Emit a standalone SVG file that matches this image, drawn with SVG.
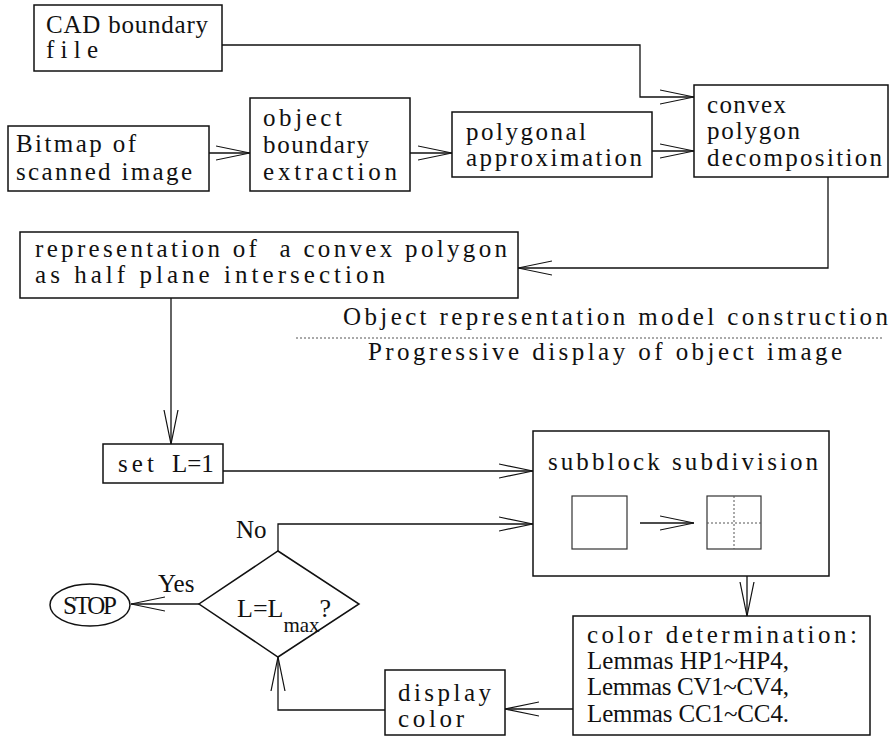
<svg xmlns="http://www.w3.org/2000/svg" width="894" height="736" viewBox="0 0 894 736">
<defs>
<marker id="ah" viewBox="0 0 34 16" refX="34" refY="8" markerWidth="34" markerHeight="16" markerUnits="userSpaceOnUse" orient="auto">
<path d="M0,1 L34,8 L0,15" fill="none" stroke="#111" stroke-width="1.2"/>
</marker>
</defs>
<style>
.box{fill:#fff;stroke:#111;stroke-width:1.5}
.ln{fill:none;stroke:#111;stroke-width:1.3}
.t{font-family:"Liberation Serif","Times New Roman",serif;font-size:25px;fill:#111}
.r{font-family:"Liberation Serif","Times New Roman",serif;font-size:25px;fill:#111}
.dot{stroke:#555;stroke-width:1;stroke-dasharray:2 2;fill:none}
</style>
<rect width="894" height="736" fill="#fff"/>

<g id="connectors">
<polyline class="ln" points="222,45 640,45 640,97 694,97" marker-end="url(#ah)"/>
<line class="ln" x1="209" y1="153" x2="250" y2="153" marker-end="url(#ah)"/>
<line class="ln" x1="410" y1="153" x2="452" y2="153" marker-end="url(#ah)"/>
<line class="ln" x1="652" y1="151" x2="694" y2="151" marker-end="url(#ah)"/>
<polyline class="ln" points="828,177 828,268 518,268" marker-end="url(#ah)"/>
<line class="ln" x1="171" y1="298" x2="171" y2="444" marker-end="url(#ah)"/>
<line class="ln" x1="223" y1="471" x2="533" y2="471" marker-end="url(#ah)"/>
<polyline class="ln" points="278,551 278,524 533,524" marker-end="url(#ah)"/>
<line class="ln" x1="199" y1="604" x2="131" y2="604" marker-end="url(#ah)"/>
<line class="ln" x1="747" y1="576" x2="747" y2="616" marker-end="url(#ah)"/>
<line class="ln" x1="573" y1="709" x2="505" y2="709" marker-end="url(#ah)"/>
<polyline class="ln" points="385,710 278,710 278,657" marker-end="url(#ah)"/>
</g>

<g id="cad">
<rect class="box" x="34" y="5" width="188" height="66"/>
<text class="t" x="46" y="33" textLength="162">CAD boundary</text>
<text class="t" x="46" y="58" textLength="52">file</text>
</g>

<g id="bitmap">
<rect class="box" x="8" y="126" width="201" height="65"/>
<text class="t" x="16" y="152" textLength="120">Bitmap of</text>
<text class="t" x="16" y="180" textLength="176">scanned image</text>
</g>

<g id="extraction">
<rect class="box" x="250" y="98" width="160" height="93"/>
<text class="t" x="263" y="126" textLength="79">object</text>
<text class="t" x="263" y="153" textLength="106">boundary</text>
<text class="t" x="263" y="180" textLength="134">extraction</text>
</g>

<g id="polygonal">
<rect class="box" x="452" y="112" width="200" height="65"/>
<text class="t" x="466" y="140" textLength="120">polygonal</text>
<text class="t" x="466" y="166" textLength="176">approximation</text>
</g>

<g id="convex">
<rect class="box" x="694" y="85" width="194" height="92"/>
<text class="t" x="707" y="113" textLength="79">convex</text>
<text class="t" x="707" y="139" textLength="93">polygon</text>
<text class="t" x="707" y="166" textLength="175">decomposition</text>
</g>

<g id="representation">
<rect class="box" x="20" y="232" width="498" height="66"/>
<text class="t" x="35" y="257" textLength="472" xml:space="preserve">representation of  a convex polygon</text>
<text class="t" x="35" y="283" textLength="350">as half plane intersection</text>
</g>

<g id="separator">
<text class="t" x="343" y="325" textLength="545">Object representation model construction</text>
<line class="dot" x1="296" y1="338" x2="882" y2="338"/>
<text class="t" x="368" y="360" textLength="474">Progressive display of object image</text>
</g>

<g id="setL">
<rect class="box" x="103" y="444" width="120" height="39"/>
<text class="t" x="118" y="472" textLength="36">set</text>
<text class="r" x="172" y="472">L=1</text>
</g>

<g id="subblock">
<rect class="box" x="533" y="431" width="296" height="145"/>
<text class="t" x="548" y="470" textLength="270">subblock subdivision</text>
<rect x="572" y="496" width="55" height="53" fill="none" stroke="#333" stroke-width="1.2"/>
<line class="ln" x1="640" y1="523" x2="694" y2="523" marker-end="url(#ah)"/>
<rect x="707" y="496" width="54" height="53" fill="none" stroke="#333" stroke-width="1.2"/>
<line class="dot" x1="734" y1="496" x2="734" y2="549"/>
<line class="dot" x1="707" y1="523" x2="761" y2="523"/>
</g>

<g id="decision">
<polygon class="box" points="278,551 359,604 278,657 199,604"/>
<text class="r" x="237" y="617" style="font-size:26px">L=L<tspan dy="15" style="font-size:21px">max</tspan><tspan dy="-15">?</tspan></text>
<text class="r" x="236" y="538">No</text>
<text class="r" x="158" y="592">Yes</text>
</g>

<g id="stop">
<ellipse class="box" cx="90" cy="605" rx="40" ry="21"/>
<text class="r" x="63" y="614" textLength="54">STOP</text>
</g>

<g id="display">
<rect class="box" x="385" y="670" width="120" height="65"/>
<text class="t" x="398" y="701" textLength="93">display</text>
<text class="t" x="398" y="727" textLength="66">color</text>
</g>

<g id="colordet">
<rect class="box" x="573" y="616" width="297" height="119"/>
<text class="t" x="587" y="643" textLength="270">color determination:</text>
<text class="r" x="587" y="669" textLength="202">Lemmas HP1~HP4,</text>
<text class="r" x="587" y="695" textLength="202">Lemmas CV1~CV4,</text>
<text class="r" x="587" y="722" textLength="202">Lemmas CC1~CC4.</text>
</g>
</svg>
